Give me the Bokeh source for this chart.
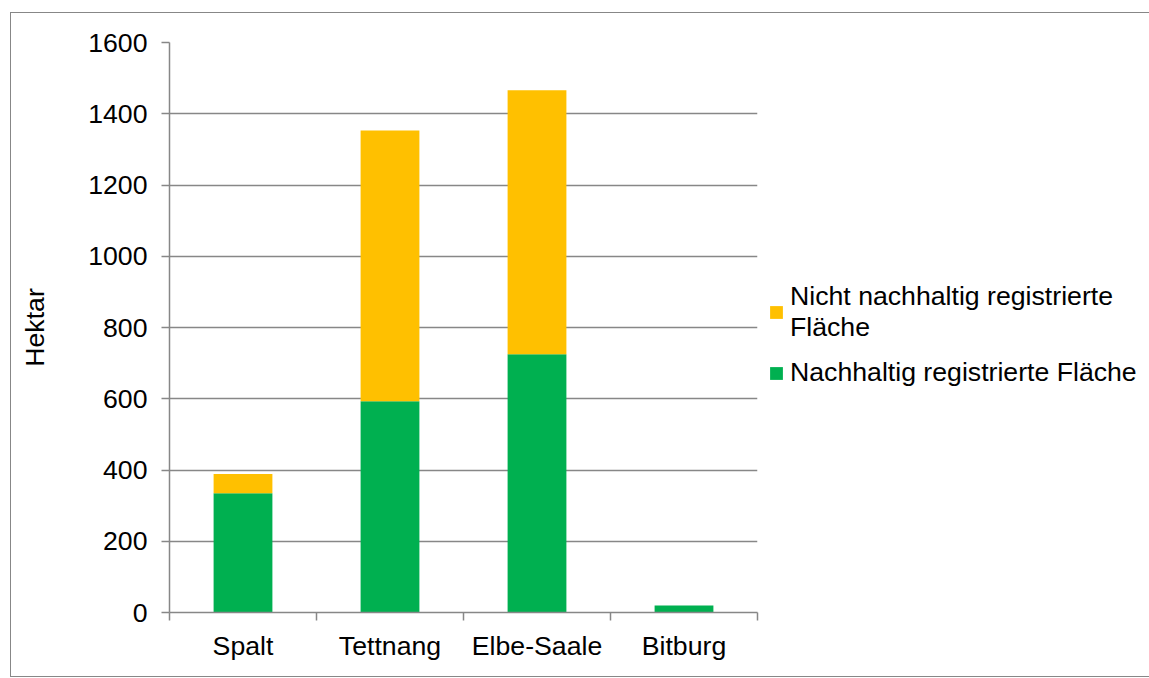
from bokeh.plotting import figure
from bokeh.models import Range1d, FixedTicker, Legend, LegendItem
from bokeh.embed import file_html
from bokeh.resources import INLINE

categories = ["Spalt", "Tettnang", "Elbe-Saale", "Bitburg"]
nachhaltig = [335, 593, 725, 20]
nicht_nachhaltig = [54, 760, 741, 0]
y_ticks = [0, 200, 400, 600, 800, 1000, 1200, 1400, 1600]
series_names = ["Nachhaltig registrierte Fläche", "Nicht nachhaltig registrierte\nFläche"]

FONT = "Liberation Sans"
FS = "20pt"
GRAY = "#878787"

n = len(categories)
centers = [i + 0.5 for i in range(n)]
bounds = list(range(n + 1))

p = figure(x_range=Range1d(0, n),
           y_range=Range1d(0, 1600),
           frame_width=588, frame_height=570,
           min_border_left=158, min_border_top=29, min_border_right=390, min_border_bottom=64,
           output_backend="svg", toolbar_location=None)
p.margin = (12, 0, 0, 10)
p.styles = {"border": "1px solid " + GRAY}
p.outline_line_color = None
p.background_fill_color = "white"

src = dict(x=centers, cat=categories, a=nachhaltig, b=nicht_nachhaltig)
rs = p.vbar_stack(["a", "b"], x="x", width=0.4, source=src,
                  color=["#00B050", "#FFC000"], line_color=None)

# y axis
ya = p.yaxis[0]
ya.ticker = FixedTicker(ticks=y_ticks)
ya.axis_line_color = GRAY
ya.axis_line_width = 1.5
ya.major_tick_line_color = GRAY
ya.major_tick_line_width = 1.5
ya.major_tick_out = 8
ya.major_tick_in = 0
ya.minor_tick_line_color = None
ya.major_label_text_font = FONT
ya.major_label_text_font_size = FS
ya.major_label_text_color = "black"
ya.major_label_standoff = 14
ya.axis_label = "Hektar"
ya.axis_label_text_font = FONT
ya.axis_label_text_font_size = FS
ya.axis_label_text_font_style = "normal"
ya.axis_label_text_color = "black"
ya.axis_label_standoff = 35

p.ygrid.ticker = FixedTicker(ticks=y_ticks)
p.ygrid.grid_line_color = GRAY
p.ygrid.grid_line_width = 1.5
p.xgrid.grid_line_color = None

# x axis: labels at category centres, tick marks at category boundaries
xa = p.xaxis[0]
xa.ticker = FixedTicker(ticks=centers, minor_ticks=bounds)
xa.major_label_overrides = {c: lab for c, lab in zip(centers, categories)}
xa.axis_line_color = GRAY
xa.axis_line_width = 1.5
xa.major_tick_line_color = None
xa.minor_tick_line_color = GRAY
xa.minor_tick_line_width = 1.5
xa.minor_tick_out = 8
xa.minor_tick_in = 0
xa.major_tick_out = 8
xa.major_tick_in = 0
xa.major_label_text_font = FONT
xa.major_label_text_font_size = FS
xa.major_label_text_color = "black"
xa.major_label_standoff = 10

legend = Legend(items=[LegendItem(label=series_names[1], renderers=[rs[1]]),
                       LegendItem(label=series_names[0], renderers=[rs[0]])],
                location=(11, 224))
legend.label_text_font = FONT
legend.label_text_font_size = FS
legend.label_text_color = "black"
legend.border_line_color = None
legend.background_fill_alpha = 0
legend.padding = 0
legend.margin = 0
legend.glyph_width = 16
legend.glyph_height = 16
legend.label_standoff = 6
legend.spacing = 14
p.add_layout(legend, "right")

open("out.html", "w").write(file_html(p, INLINE))
